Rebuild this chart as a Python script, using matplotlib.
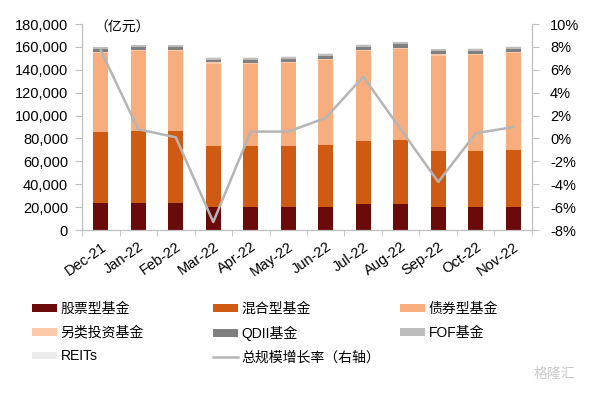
import numpy as np
import matplotlib
matplotlib.use("Agg")
import matplotlib.pyplot as plt
import matplotlib.transforms as mtransforms
from matplotlib.lines import Line2D
from matplotlib.patches import Patch

plt.rcParams['font.family'] = ['Liberation Sans', 'Noto Sans CJK SC', 'DejaVu Sans']

months = ['Dec-21', 'Jan-22', 'Feb-22', 'Mar-22', 'Apr-22', 'May-22',
          'Jun-22', 'Jul-22', 'Aug-22', 'Sep-22', 'Oct-22', 'Nov-22']

# 亿元
stock = [23300, 23300, 23500, 19800, 20400, 20400, 20400, 22400, 22400, 20400, 20400, 20400]
mixed = [62100, 63500, 63000, 53900, 53000, 53300, 53900, 55700, 56200, 48900, 48900, 49500]
bond = [69100, 69200, 69500, 71800, 71900, 72300, 74100, 78200, 79700, 83200, 83500, 84700]
alt = [1000, 1000, 1000, 1000, 1000, 1000, 1000, 1000, 1000, 1000, 1000, 1000]
qdii = [2600, 2700, 2700, 2500, 2500, 2600, 2700, 2900, 2900, 2700, 2700, 2600]
fof = [1800, 1900, 1900, 1600, 1700, 1700, 1800, 1900, 1900, 1700, 1700, 1800]
reits = [400, 400, 400, 400, 400, 400, 500, 600, 600, 600, 600, 600]
growth = [7.7, 0.8, 0.1, -7.3, 0.6, 0.6, 1.8, 5.4, 0.8, -3.8, 0.45, 1.0]  # %

series = [
    ('股票型基金', stock, '#6b0a0a'),
    ('混合型基金', mixed, '#cf5a12'),
    ('债券型基金', bond, '#f8ad7e'),
    ('另类投资基金', alt, '#fbcaa8'),
    ('QDII基金', qdii, '#7f7f7f'),
    ('FOF基金', fof, '#bdbdbd'),
    ('REITs', reits, '#ececec'),
]
line_color = '#b5b5b5'
FS = 10.5

fig = plt.figure(figsize=(5.96, 3.94), dpi=100)
ax = fig.add_axes([0.1376, 0.4162, 0.7550, 0.5228])
x = np.arange(len(months))
bottom = np.zeros(len(months))
for name, vals, c in series:
    ax.bar(x, vals, width=0.4, bottom=bottom, color=c, linewidth=0)
    bottom += np.array(vals)

ax.set_xlim(-0.5, len(months) - 0.5)
ax.set_ylim(0, 180000)
ax.set_yticks(np.arange(0, 180001, 20000))
ax.set_yticklabels([f'{v:,}' for v in range(0, 180001, 20000)], fontsize=FS)
ax.set_xticks(x)
ax.set_xticklabels(months, rotation=35, ha='right', rotation_mode='anchor', fontsize=FS)
shift = mtransforms.ScaledTranslation(-4 / 72, -1 / 72, fig.dpi_scale_trans)
for lbl in ax.get_xticklabels():
    lbl.set_transform(lbl.get_transform() + shift)
ax.set_xticks(np.arange(-0.5, len(months), 1), minor=True)
ax.tick_params(axis='x', which='major', length=0, pad=7)
ax.tick_params(axis='x', which='minor', length=4, color='#bfbfbf')
ax.tick_params(axis='y', length=5, color='#bfbfbf', pad=5)
ax.spines['top'].set_visible(False)
for s in ['left', 'bottom', 'right']:
    ax.spines[s].set_color('#bfbfbf')
ax.text(0.027, 1.015, '（亿元）', transform=ax.transAxes, fontsize=10, va='top', ha='left')

ax2 = ax.twinx()
ax2.plot(x, growth, color=line_color, lw=1.8)
ax2.set_ylim(-8, 10)
ax2.set_yticks(np.arange(-8, 11, 2))
ax2.set_yticklabels([f'{v}%' for v in range(-8, 11, 2)], fontsize=FS)
ax2.tick_params(axis='y', length=5, color='#bfbfbf', pad=8)
ax2.spines['top'].set_visible(False)
for s in ['left', 'bottom', 'right']:
    ax2.spines[s].set_color('#bfbfbf')

handles = [Patch(facecolor=c, edgecolor='none', label=n) for n, _, c in series]
handles.append(Line2D([0], [0], color=line_color, lw=1.8, label='总规模增长率（右轴）'))
columns = [([0, 3, 6], 32), ([1, 4, 7], 213), ([2, 5], 400)]
for idx, px in columns:
    fig.legend([handles[i] for i in idx], [handles[i].get_label() for i in idx],
               loc='upper left', bbox_to_anchor=(px / 596, 1 - 302 / 394),
               frameon=False, fontsize=10, handlelength=1.8, handleheight=0.45,
               handletextpad=0.25, labelspacing=0.7, borderpad=0, borderaxespad=0)

fig.text(0.93, 0.04, '格隆汇', fontsize=10, color='#c8c8c8', ha='center')

fig.savefig('out.png', dpi=100)
